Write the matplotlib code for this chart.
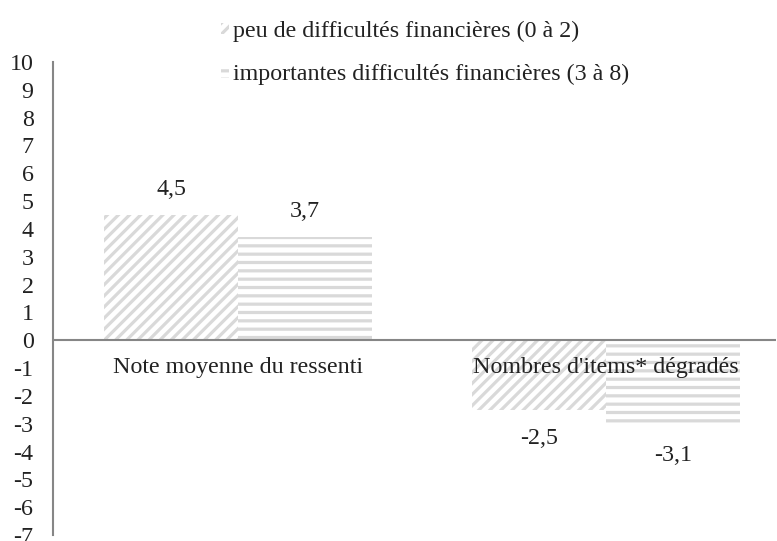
import matplotlib
matplotlib.use("Agg")
import matplotlib.pyplot as plt
import numpy as np

categories = ["Note moyenne du ressenti", "Nombres d'items* dégradés"]
series_names = ["peu de difficultés financières (0 à 2)",
                "importantes difficultés financières (3 à 8)"]
peu = [4.5, -2.5]
importantes = [3.7, -3.1]
yticks = list(range(-7, 11))

plt.rcParams['font.family'] = ['Liberation Serif', 'DejaVu Serif']
plt.rcParams['hatch.linewidth'] = 2.3

FS = 17.3
fig = plt.figure(figsize=(7.77, 5.41), dpi=100)
ax = fig.add_axes([53/777, 1 - 535/541, (776-53)/777, (535-62)/541])

x = np.arange(len(categories))
w = 0.364
gray = '#d9d9d9'
b1 = ax.bar(x - w/2, peu, w, color='white', edgecolor=gray, hatch='///', linewidth=0,
            label=series_names[0])
b2 = ax.bar(x + w/2, importantes, w, color='white', edgecolor=gray, hatch='--', linewidth=0,
            label=series_names[1])

for bars, vals in ((b1, peu), (b2, importantes)):
    for rect, v in zip(bars, vals):
        cx = rect.get_x() + rect.get_width()/2
        off = 18.5 if v >= 0 else -21
        ax.annotate(f"{v:.1f}".replace('.', ','), (cx, v), xytext=(0, off),
                    textcoords='offset points', ha='center', va='center', fontsize=FS, color='#222222')

for i, c in enumerate(categories):
    ax.annotate(c, (x[i], 0), xytext=(0, -19.5), textcoords='offset points',
                ha='center', va='center', fontsize=FS, color='#222222')

ax.set_ylim(-7, 10)
ax.set_xlim(-(238-53)/368, (776-238)/368)
ax.set_yticks(yticks)
ax.set_yticklabels([str(t) for t in yticks], fontsize=FS, color='#222222')
ax.tick_params(axis='y', length=0, pad=14)
ax.set_xticks([])
for s in ['top', 'right', 'bottom']:
    ax.spines[s].set_visible(False)
ax.spines['left'].set_color('#868686')
ax.spines['left'].set_linewidth(1.5)
ax.axhline(0, color='#868686', linewidth=1.5)

leg = fig.legend(handles=[b1, b2], loc='upper left', bbox_to_anchor=(221/777, 1 - 21/541),
                 frameon=False, fontsize=FS, handlelength=0.35, handleheight=0.35,
                 handletextpad=0.15, labelspacing=0.92, borderaxespad=0, borderpad=0)
for t in leg.get_texts():
    t.set_color('#222222')

fig.savefig("out.png", dpi=100)
